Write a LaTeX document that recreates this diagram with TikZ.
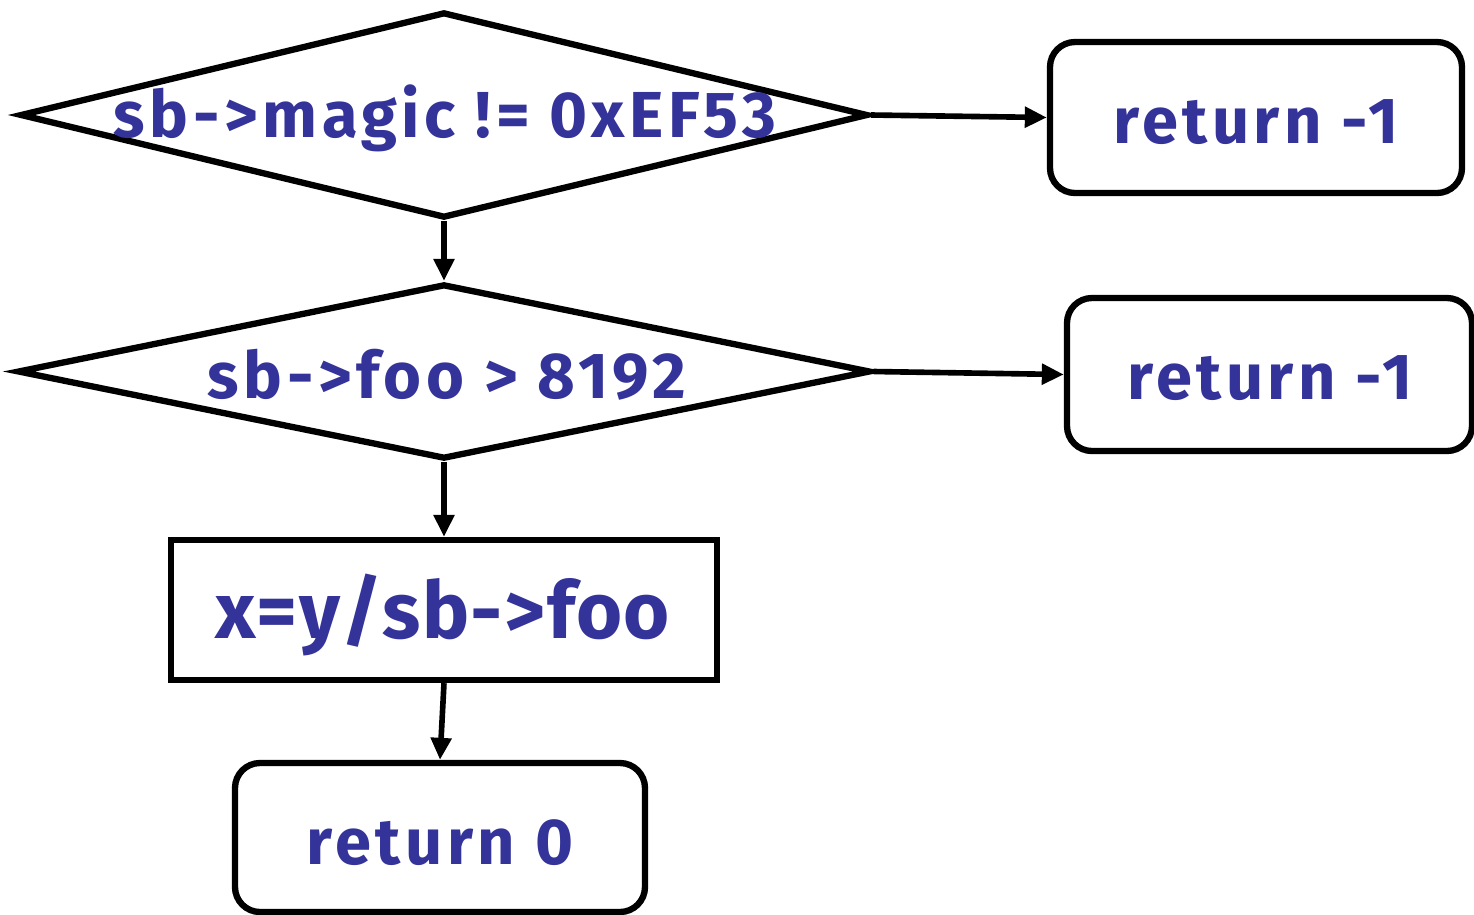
\documentclass[tikz,border=0pt]{standalone}
\usepackage{fontspec}
\setmainfont{Fira Sans}
\newfontfamily\codefont[LetterSpace=7]{Fira Sans}
\newfontfamily\stmtfont[LetterSpace=2]{Fira Sans}
\usetikzlibrary{shapes.geometric,arrows.meta}
\definecolor{codeblue}{HTML}{333399}
\tikzset{
  outline/.style={draw=black, line width=1.8pt},
  decision/.style={outline, shape=diamond, inner sep=0pt},
  retbox/.style={outline, rectangle, rounded corners=0.25cm, inner sep=0pt},
  stmtbox/.style={outline, rectangle, inner sep=0pt},
  code/.style={text=codeblue, font=\codefont\fontsize{18.5}{20}\selectfont\bfseries, inner sep=0pt},
  flow/.style={line width=1.6pt, -{Triangle[length=0.22cm,width=0.2cm]}}
}
\begin{document}
\begin{tikzpicture}
\useasboundingbox (0,0) rectangle (14.74,-9.14);

% decisions
\node[decision, minimum width=8.48cm, minimum height=2.06cm] (d1) at (4.44,-1.15) {};
\node[code] (t1) at (4.45,-1.18) {sb->magic != 0xEF53};
\node[decision, minimum width=8.53cm, minimum height=1.75cm] (d2) at (4.44,-3.715) {};
\node[code] (t2) at (4.47,-3.75) {sb->foo > 8192};

% early returns
\node[retbox, minimum width=4.12cm, minimum height=1.51cm] (r1) at (12.56,-1.175) {};
\node[code] (rt1) at (12.56,-1.22) {return -1};
\node[retbox, minimum width=4.05cm, minimum height=1.53cm] (r2) at (12.695,-3.745) {};
\node[code] (rt2) at (12.70,-3.78) {return -1};

% main path
\node[stmtbox, minimum width=5.46cm, minimum height=1.40cm] (s) at (4.44,-6.10) {};
\node[code, font=\stmtfont\fontsize{22.5}{26}\selectfont\bfseries] (st) at (4.43,-6.15) {x=y/sb->foo};
\node[retbox, minimum width=4.10cm, minimum height=1.49cm] (r3) at (4.40,-8.375) {};
\node[code] (rt3) at (4.40,-8.43) {return 0};

% connectors
\draw[flow] (d1.east) -- (r1.west);
\draw[flow] (d2.east) -- (r2.west);
\draw[flow] (d1.south) -- (d2.north);
\draw[flow] (d2.south) -- (s.north);
\draw[flow] (s.south) -- (r3.north);
\end{tikzpicture}
\end{document}
